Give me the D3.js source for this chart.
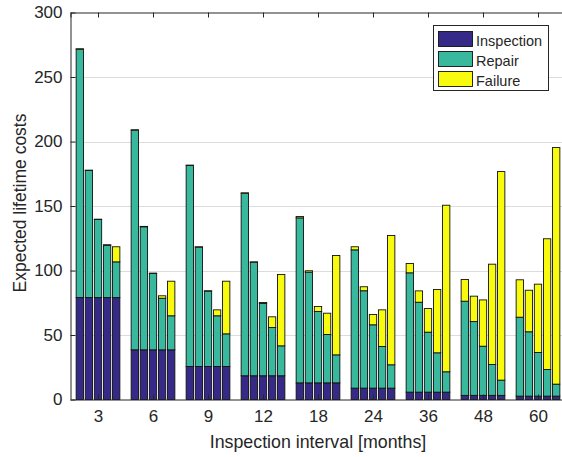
<!DOCTYPE html>
<html><head><meta charset="utf-8">
<script src="https://cdn.jsdelivr.net/npm/d3@7"></script>
<style>body{margin:0;background:#fff;} svg{display:block;font-family:Arial,"Liberation Sans",sans-serif;}</style>
</head><body>
<svg id="c" width="562" height="457"></svg>
<script>
const intervals = ["3","6","9","12","18","24","36","48","60"];
const series = ["Inspection","Repair","Failure"];
const colors = ["#352a87","#38b89d","#f9fb0e"];
const inspection = [79, 38.5, 25.6, 18.4, 12.9, 8.8, 5.7, 3.2, 2.6];
const repair = [
  [192.5, 98.5, 60.5, 40.5, 27.7],
  [170.3, 95.4, 59.2, 40.0, 26.4],
  [155.8, 92.5, 58.4, 39.3, 25.3],
  [141.5, 88.0, 56.0, 37.4, 23.2],
  [127.9, 85.8, 55.3, 37.5, 21.7],
  [107.2, 75.5, 49.1, 32.3, 18.1],
  [92.5, 69.7, 46.5, 30.5, 15.8],
  [73.0, 57.2, 38.1, 23.9, 11.8],
  [61.2, 49.9, 33.8, 20.7, 9.3]
];
const failure = [
  [0.4, 0.3, 0.3, 0.5, 11.7],
  [0.3, 0.3, 0.3, 1.9, 26.8],
  [0.3, 0.3, 0.3, 4.6, 40.8],
  [0.3, 0.3, 0.8, 8.3, 55.3],
  [1.1, 1.1, 3.9, 16.5, 77.0],
  [2.4, 3.1, 8.0, 28.4, 100.2],
  [7.2, 8.8, 18.3, 49.1, 129.1],
  [16.8, 19.7, 35.9, 77.8, 161.7],
  [29.0, 32.2, 53.0, 101.3, 183.4]
];
const yTicks = [0,50,100,150,200,250,300];

const svg = d3.select("#c");
const L = 70.5, T = 12.5, B = 399.5;
const x = d3.scaleLinear().domain([0.5, 9.5]).range([L, L + 495]);
const y = d3.scaleLinear().domain([0, 300]).range([B, T]);
const R = x(9.5);
const step = 0.1655, bw = 0.133;
const txtCol = "#262626";

// grid
svg.append("g").selectAll("line").data(yTicks.filter(d => d > 0 && d < 300)).join("line")
  .attr("x1", L).attr("x2", R).attr("y1", d => Math.round(y(d)) + 0.5).attr("y2", d => Math.round(y(d)) + 0.5)
  .attr("stroke", "#dcdcdc").attr("stroke-width", 1);

// bars
const rows = [];
intervals.forEach((iv, g) => {
  for (let j = 0; j < 5; j++) {
    const vals = [inspection[g], repair[g][j], failure[g][j]];
    let base = 0;
    vals.forEach((v, s) => {
      rows.push({g, j, s, y0: base, y1: base + v});
      base += v;
    });
  }
});
svg.append("g").selectAll("rect").data(rows).join("rect")
  .attr("x", d => x(d.g + 1 + (d.j - 2) * step - bw / 2))
  .attr("width", x(bw) - x(0))
  .attr("y", d => y(d.y1))
  .attr("height", d => y(d.y0) - y(d.y1))
  .attr("fill", d => colors[d.s])
  .attr("stroke", "#111").attr("stroke-width", 0.9);

// axes
const yAxis = d3.axisLeft(y).tickValues(yTicks).tickSize(-5).tickPadding(8);
const gy = svg.append("g").attr("transform", `translate(${L},0)`).call(yAxis);
const xAxis = d3.axisBottom(x).tickValues(d3.range(1, 10)).tickFormat(d => intervals[d - 1]).tickSize(-5).tickPadding(10);
const gx = svg.append("g").attr("transform", `translate(0,${B})`).call(xAxis);
const xTop = d3.axisTop(x).tickValues(d3.range(1, 10)).tickFormat("").tickSize(-5);
const gt = svg.append("g").attr("transform", `translate(0,${T})`).call(xTop);
[gy, gx, gt].forEach(g => {
  g.select(".domain").attr("stroke", "#262626").attr("stroke-width", 1);
  g.selectAll(".tick line").attr("stroke", "#262626");
  g.selectAll("text").attr("fill", txtCol).attr("font-size", 17).attr("font-family", "Arial, 'Liberation Sans', sans-serif");
});
gy.select(".domain").attr("d", `M0.5,${T}V${B}`);
gx.select(".domain").attr("d", `M${L},0.5H${R}`);

// axis labels
svg.append("text").attr("x", 318).attr("y", 447.5).attr("text-anchor", "middle")
  .attr("fill", txtCol).attr("font-size", 17.8).text("Inspection interval [months]");
svg.append("text").attr("transform", `translate(25.5,203) rotate(-90)`).attr("text-anchor", "middle")
  .attr("fill", txtCol).attr("font-size", 17.5).text("Expected lifetime costs");

// legend
const lg = svg.append("g").attr("transform", "translate(433.5,25.5)");
lg.append("rect").attr("width", 115).attr("height", 65).attr("fill", "#fff").attr("stroke", "#262626").attr("stroke-width", 1);
series.forEach((s, i) => {
  lg.append("rect").attr("x", 5).attr("y", 6 + i * 20).attr("width", 34).attr("height", 15)
    .attr("fill", colors[i]).attr("stroke", "#111").attr("stroke-width", 0.9);
  lg.append("text").attr("x", 42.5).attr("y", 20 + i * 20).attr("fill", txtCol).attr("font-size", 14.5).text(s);
});
</script>
</body></html>
